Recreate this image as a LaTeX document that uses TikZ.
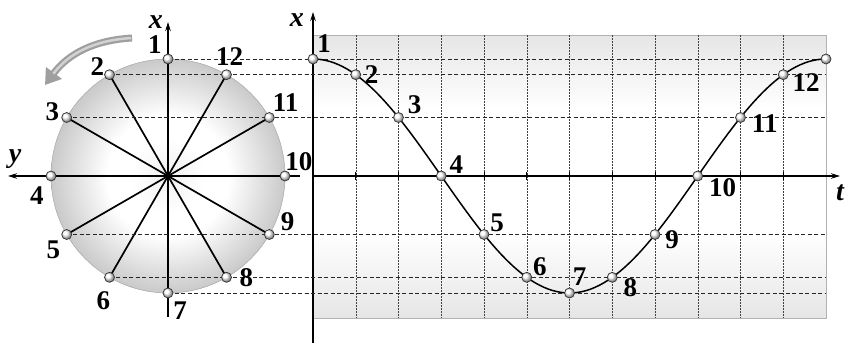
\documentclass[tikz,border=0pt]{standalone}
\usepackage{fontspec}
\setmainfont{Liberation Serif}
\usetikzlibrary{arrows.meta, positioning}

\pgfdeclareradialshading{disk}{\pgfpoint{0bp}{0bp}}{color(0bp)=(gray!12); color(8bp)=(white); color(13bp)=(white); color(25bp)=(gray!42); color(50bp)=(gray!42)}
\pgfdeclareverticalshading{band}{100bp}{color(0bp)=(gray!20); color(25bp)=(gray!20); color(40bp)=(white); color(62bp)=(white); color(75bp)=(gray!20); color(100bp)=(gray!20)}

\begin{document}
\begin{tikzpicture}[
    x=1pt, y=-1pt,
    >={Stealth[length=9pt, width=5.5pt]},
    axis/.style={->, line width=1.5pt},
    spoke/.style={line width=1.7pt},
    guide/.style={gray!30!black, line width=0.6pt, dash pattern=on 4pt off 2.5pt},
    gridline/.style={black!75, line width=0.5pt, dash pattern=on 1.5pt off 1.5pt},
    dotnode/.style={circle, draw=black!80, line width=0.7pt, inner sep=0pt, minimum size=10pt, ball color=white},
    num/.style={font=\fontsize{27}{27}\selectfont\bfseries, inner sep=0.5pt},
    axname/.style={font=\fontsize{28}{28}\selectfont\bfseries\itshape, inner sep=0pt}
  ]
    \useasboundingbox (0,0) rectangle (846,343);

    % positions on the circle and on the graph
    \coordinate (c) at (168,176);
    \foreach \k in {1,...,12}
      \coordinate (q\k) at ({168+117*cos(60+30*\k)}, {176-117*sin(60+30*\k)});
    \foreach \k in {1,...,13}
      \coordinate (s\k) at ({313+(\k-1)*42.75}, {176-117*cos(30*(\k-1))});
    \coordinate (edge) at (826,0);

    % graph area
    \shade[shading=band, draw=gray!60, line width=0.5pt] (313,35) rectangle (826,318);
    \foreach \k in {2,...,12}
      \draw[gridline] ({313+(\k-1)*42.75},35) -- ({313+(\k-1)*42.75},318);

    % circle
    \shade[shading=disk, draw=gray!70, line width=0.5pt] (c) circle[radius=117pt];
    \foreach \k in {1,...,12}
      \draw[spoke] (c) -- (q\k);

    % axes
    \coordinate (cxb) at (168,317);
    \coordinate (cxt) at (168,22);
    \coordinate (cyb) at (300,176);
    \coordinate (cyt) at (8,176);
    \coordinate (gxb) at (313,343);
    \coordinate (gxt) at (313,12);
    \coordinate (gtt) at (840,176);
    \draw[axis] (cxb) -- (cxt);
    \draw[axis] (cyb) -- (cyt);
    \draw[axis] (gxb) -- (gxt);
    \draw[axis] (s1 |- c) -- (gtt);
    \foreach \k in {2,...,12}
      \draw[line width=0.8pt] ({313+(\k-1)*42.75},172) -- ++(0,8);

    \node[axname, left=5pt of cxt, yshift=0pt] (cxl) {x};
    \node[axname, above=7pt of cyt, xshift=7pt] (cyl) {y};
    \node[axname, left=9pt of gxt, yshift=-8pt] (gxl) {x};
    \node[axname, below=9pt of gtt] (gtl) {t};

    % projections
    \foreach \k in {1,2,3,5,6,7}
      \draw[guide] (q\k) -- (q\k -| edge);

    % rotation
    \coordinate (ra) at (132,38);
    \coordinate (rb) at (45,85);
    \draw[gray!75, line width=7pt, -{Triangle[length=15pt, width=19pt]}] (ra) to[bend right=25] (rb);
    \draw[gray!35, line width=2.5pt, shorten >=14pt, shorten <=1pt] (ra) to[bend right=25] (rb);

    % curve
    \draw[line width=1.5pt] plot[domain=0:360, samples=121] ({313+\x*42.75/30}, {176-117*cos(\x)});

    % points
    \foreach \k in {1,...,12}
      \node[dotnode] (p\k) at (q\k) {};
    \foreach \k in {1,...,13}
      \node[dotnode] (g\k) at (s\k) {};

    % numbers on the circle
    \node[num, above left=1pt and 2pt of p1] (n1) {1};
    \node[num, above left=-5pt and 1pt of p2] (n2) {2};
    \node[num, above left=-8pt and 3pt of p3] (n3) {3};
    \node[num, below left=6pt and 3pt of p4] (n4) {4};
    \node[num, below left=2pt and 2pt of p5] (n5) {5};
    \node[num, below left=10pt and -5pt of p6] (n6) {6};
    \node[num, below right=4pt and 1pt of p7] (n7) {7};
    \node[num, right=7pt of p8] (n8) {8};
    \node[num, above right=-1pt and 7pt of p9] (n9) {9};
    \node[num, above right=1pt and -4pt of p10] (n10) {10};
    \node[num, above right=2pt and -1pt of p11] (n11) {11};
    \node[num, above=3pt of p12, xshift=3pt] (n12) {12};

    % numbers on the graph
    \node[num, above right=2pt and 0pt of g1] (m1) {1};
    \node[num, right=3pt of g2] (m2) {2};
    \node[num, above right=-1pt and 5pt of g3] (m3) {3};
    \node[num, above right=-2pt and 4pt of g4] (m4) {4};
    \node[num, above right=-2pt and 2pt of g5] (m5) {5};
    \node[num, above right=-3pt and 2pt of g6] (m6) {6};
    \node[num, above right=3pt and -1pt of g7] (m7) {7};
    \node[num, below right=-3pt and 7pt of g8] (m8) {8};
    \node[num, below right=-8pt and 6pt of g9] (m9) {9};
    \node[num, below right=-2pt and 7pt of g10] (m10) {10};
    \node[num, below right=-7pt and 7pt of g11] (m11) {11};
    \node[num, below right=-6pt and 5pt of g12] (m12) {12};
  \end{tikzpicture}
\end{document}
